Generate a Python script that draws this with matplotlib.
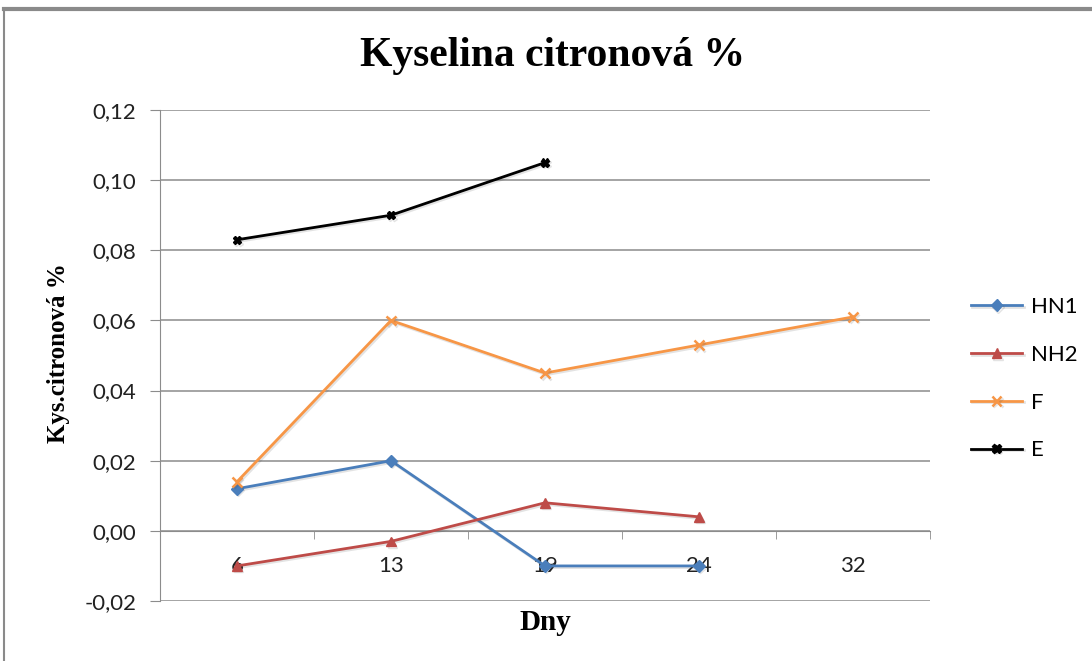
import matplotlib.pyplot as plt
import matplotlib.patheffects as pe
from matplotlib.lines import Line2D
from matplotlib.ticker import FixedLocator, FuncFormatter

days = ['6', '13', '19', '24', '32']

hn1 = [0.012, 0.020, -0.010, -0.010]
nh2 = [-0.010, -0.003, 0.008, 0.004]
f = [0.014, 0.060, 0.045, 0.053, 0.061]
e = [0.083, 0.090, 0.105]

series = [
    ('HN1', hn1, '#4A7EBB', 'D', 6, 1.0),
    ('NH2', nh2, '#BE4B48', '^', 7, 1.0),
    ('F', f, '#F79646', 'x', 7, 1.8),
    ('E', e, '#000000', 'X', 6, 1.0),
]

fig = plt.figure(figsize=(10.92, 6.61), dpi=100)
ax = fig.add_axes([160 / 1092, 1 - 601 / 661, 770 / 1092, 491 / 661])

shadow = [pe.SimpleLineShadow(offset=(1, -1.2), alpha=0.15, shadow_color='#444444'), pe.Normal()]

for name, vals, color, marker, ms, mew in series:
    ax.plot(range(len(vals)), vals, color=color, lw=2, marker=marker, ms=ms,
            mew=mew, mec=color, mfc=color, label=name, path_effects=shadow, zorder=3)

ax.set_xlim(-0.5, len(days) - 0.5)
ax.set_ylim(-0.02, 0.12)
ax.set_yticks([-0.02, 0, 0.02, 0.04, 0.06, 0.08, 0.10, 0.12])
ax.yaxis.set_major_formatter(FuncFormatter(lambda v, p: f'{v:.2f}'.replace('.', ',').replace('-0,00', '0,00')))
ax.grid(axis='y', color='#8c8c8c', lw=1.1)
ax.set_axisbelow(True)

for s in ['top', 'right']:
    ax.spines[s].set_visible(False)
ax.spines['left'].set_color('#8c8c8c')
ax.spines['bottom'].set_color('#8c8c8c')
ax.spines['bottom'].set_position(('data', 0))

ax.set_xticks(range(len(days)))
ax.set_xticklabels(days)
ax.xaxis.set_minor_locator(FixedLocator([i - 0.5 for i in range(len(days) + 1)]))
ax.tick_params(axis='x', which='major', length=0, pad=18, labelsize=16, labelcolor='#222222')
ax.tick_params(axis='x', which='minor', length=6, color='#8c8c8c', direction='out')
ax.tick_params(axis='y', length=7, color='#8c8c8c', labelsize=16, labelcolor='#222222', pad=10)
for t in ax.get_xticklabels() + ax.get_yticklabels():
    t.set_family('Lato')

fig.text(553 / 1092, 1 - 56 / 661, 'Kyselina citronová %', ha='center', va='center',
         family='Liberation Serif', weight='bold', fontsize=30)
fig.text(58 / 1092, 1 - 353 / 661, 'Kys.citronová %', ha='center', va='center', rotation=90,
         family='Liberation Serif', weight='bold', fontsize=18)
fig.text(545 / 1092, 1 - 622 / 661, 'Dny', ha='center', va='center',
         family='Liberation Serif', weight='bold', fontsize=21)

leg = fig.legend(loc='upper left', bbox_to_anchor=(951 / 1092, 1 - 277 / 661), frameon=False,
                 prop={'family': 'Lato', 'size': 16}, handlelength=2.3, labelspacing=1.25,
                 handletextpad=0.4)

# frame edges along top and left
fig.add_artist(Line2D([4 / 1092, 1], [1 - 9 / 661, 1 - 9 / 661], transform=fig.transFigure,
                      color='#8a8a8a', lw=3))
fig.add_artist(Line2D([4 / 1092, 4 / 1092], [0, 1 - 9 / 661], transform=fig.transFigure,
                      color='#8a8a8a', lw=1.5))

fig.savefig('out.png', dpi=100)
